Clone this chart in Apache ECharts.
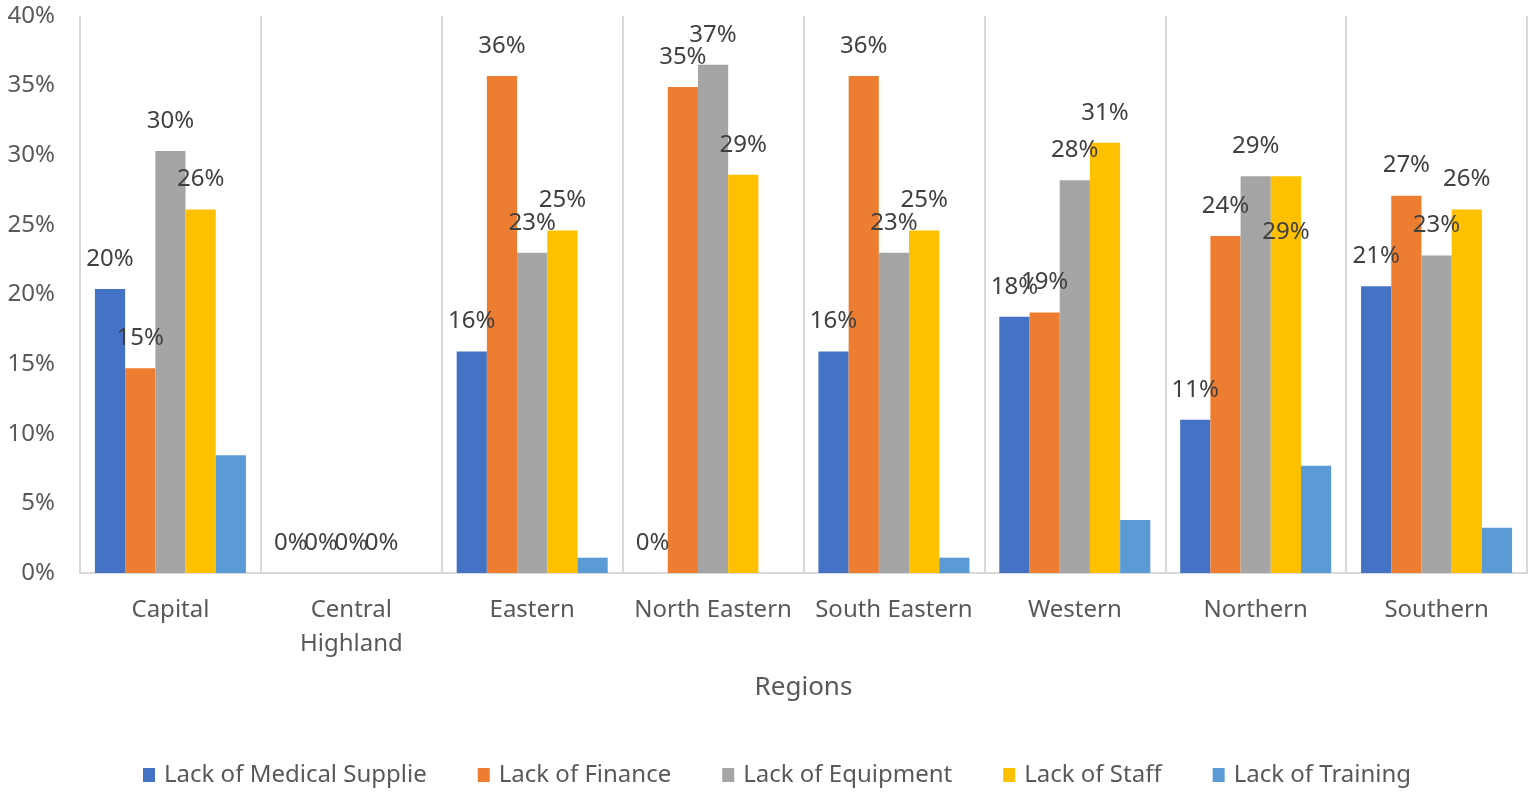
<!DOCTYPE html>
<html>
<head>
<meta charset="utf-8">
<script src="https://cdn.jsdelivr.net/npm/echarts@6/dist/echarts.min.js"></script>
<style>
html,body{margin:0;padding:0;background:#fff;}
#chart{width:1535px;height:795px;}
</style>
</head>
<body>
<div id="chart"></div>
<script>
var categories = ['Capital', 'Central\nHighland', 'Eastern', 'North Eastern', 'South Eastern', 'Western', 'Northern', 'Southern'];
var seriesNames = ['Lack of Medical Supplie', 'Lack of Finance', 'Lack of Equipment', 'Lack of Staff', 'Lack of Training'];
var medicalSupplies = [20.4, 0, 15.9, 0, 15.9, 18.4, 11.0, 20.6];
var finance = [14.7, 0, 35.7, 34.9, 35.7, 18.7, 24.2, 27.1];
var equipment = [30.3, 0, 23.0, 36.5, 23.0, 28.2, 28.5, 22.8];
var staff = [26.1, 0, 24.6, 28.6, 24.6, 30.9, 28.5, 26.1];
var training = [8.45, 0, 1.1, 0, 1.1, 3.8, 7.7, 3.25];
var yTicks = [0, 5, 10, 15, 20, 25, 30, 35, 40];

var colors = ['#4472C4', '#ED7D31', '#A5A5A5', '#FFC000', '#5B9BD5'];
var values = [medicalSupplies, finance, equipment, staff, training];
var FONT = '"Noto Sans", "Open Sans", sans-serif';

var series = values.map(function (arr, si) {
  var data = arr.map(function (v, ci) {
    var item = { value: v };
    // Excel moved one overlapping label (Northern, Lack of Staff) down inside its bar
    if (si === 3 && ci === 6) {
      item.label = { offset: [0, 86] };
    }
    return item;
  });
  return {
    name: seriesNames[si],
    type: 'bar',
    data: data,
    itemStyle: { color: colors[si] },
    barGap: '0%',
    barCategoryGap: '16.5%',
    label: {
      show: si !== 4,
      position: 'top',
      distance: 18,
      color: '#404040',
      fontFamily: FONT,
      fontSize: 24,
      formatter: function (p) { return Math.round(p.value) + '%'; }
    },
    emphasis: { disabled: true },
    animation: false
  };
});

var chart = echarts.init(document.getElementById('chart'));
chart.setOption({
  animation: false,
  backgroundColor: '#ffffff',
  color: colors,
  grid: { left: 80, right: 8, top: 16, bottom: 222, containLabel: false },
  legend: {
    data: seriesNames,
    left: 138,
    top: 758,
    icon: 'rect',
    itemWidth: 12,
    itemHeight: 14,
    itemGap: 51,
    textStyle: { color: '#595959', fontFamily: FONT, fontSize: 24, padding: [0, 0, 0, 4] },
    selectedMode: false
  },
  xAxis: {
    type: 'category',
    data: categories,
    boundaryGap: true,
    name: 'Regions',
    nameLocation: 'middle',
    nameGap: 102,
    nameTextStyle: { color: '#595959', fontFamily: FONT, fontSize: 26 },
    axisLine: { show: true, lineStyle: { color: '#D9D9D9', width: 2 } },
    axisTick: { show: false },
    splitLine: { show: true, lineStyle: { color: '#D9D9D9', width: 2 } },
    axisLabel: { color: '#595959', fontFamily: FONT, fontSize: 24, margin: 20, lineHeight: 34, interval: 0 }
  },
  yAxis: {
    type: 'value',
    min: yTicks[0],
    max: yTicks[yTicks.length - 1],
    interval: yTicks[1] - yTicks[0],
    axisLine: { show: false },
    axisTick: { show: false },
    splitLine: { show: false },
    axisLabel: { color: '#595959', fontFamily: FONT, fontSize: 24, margin: 25, formatter: '{value}%' }
  },
  series: series
});
</script>
</body>
</html>
